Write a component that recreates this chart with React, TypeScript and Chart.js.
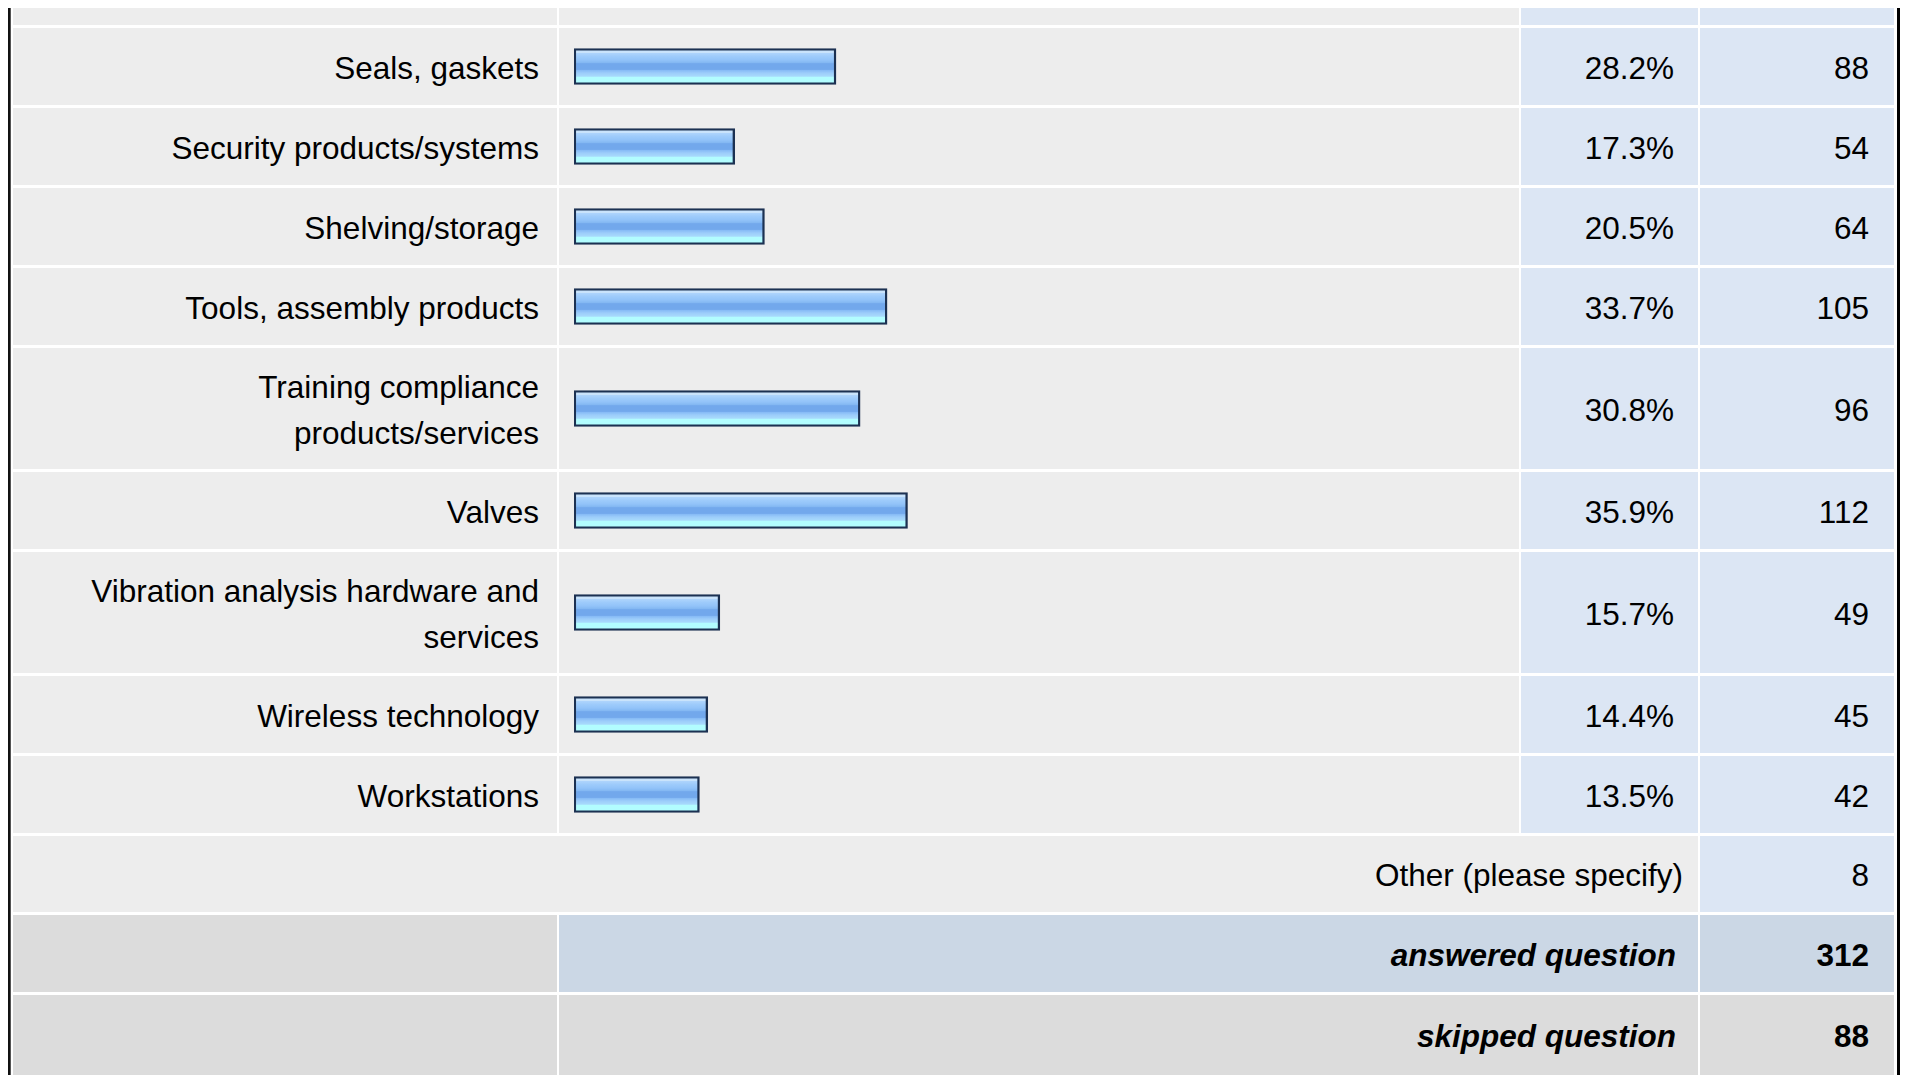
import React, { useEffect, useRef } from "react";
import { Chart, registerables } from "chart.js";

Chart.register(...registerables);

const categories: string[] = [
  "Seals, gaskets",
  "Security products/systems",
  "Shelving/storage",
  "Tools, assembly products",
  "Training compliance products/services",
  "Valves",
  "Vibration analysis hardware and services",
  "Wireless technology",
  "Workstations",
];
const percents: number[] = [28.2, 17.3, 20.5, 33.7, 30.8, 35.9, 15.7, 14.4, 13.5];
const counts: number[] = [88, 54, 64, 105, 96, 112, 49, 45, 42];
const otherLabel = "Other (please specify)";
const otherCount = 8;
const answeredLabel = "answered question";
const answeredCount = 312;
const skippedLabel = "skipped question";
const skippedCount = 88;

const FONT = '"Liberation Sans", Arial, Helvetica, sans-serif';
const GRAY = "#ededed";
const BLUE = "#dce6f4";
const DARKGRAY = "#dcdcdc";
const SUMBLUE = "#cbd7e5";

function BarCell({ label, value }: { label: string; value: number }) {
  const ref = useRef<HTMLCanvasElement | null>(null);
  useEffect(() => {
    if (!ref.current) return;
    const chart = new Chart(ref.current, {
      type: "bar",
      data: {
        labels: [label],
        datasets: [
          {
            data: [value],
            backgroundColor: (c: any) => {
              const ch = c.chart;
              const area = ch.chartArea;
              if (!area) return "#8fc2f8";
              const mid = (area.top + area.bottom) / 2;
              const g = ch.ctx.createLinearGradient(0, mid - 18, 0, mid + 18);
              g.addColorStop(0.0, "#c9e3fb");
              g.addColorStop(0.12, "#c9e3fb");
              g.addColorStop(0.13, "#aed4fc");
              g.addColorStop(0.22, "#9ecbfb");
              g.addColorStop(0.32, "#92c3f9");
              g.addColorStop(0.40, "#82b7f2");
              g.addColorStop(0.42, "#72a8ec");
              g.addColorStop(0.58, "#72a8ec");
              g.addColorStop(0.61, "#88bcf6");
              g.addColorStop(0.68, "#9ccdfa");
              g.addColorStop(0.77, "#a8dafc");
              g.addColorStop(0.80, "#b2fdff");
              g.addColorStop(1.0, "#b2fdff");
              return g;
            },
            borderColor: "#1c3152",
            borderWidth: 2.4,
            borderSkipped: false,
            barThickness: 36,
          },
        ],
      },
      options: {
        indexAxis: "y",
        responsive: true,
        maintainAspectRatio: false,
        animation: false,
        layout: { padding: { left: 15, right: 16, top: 0, bottom: 0 } },
        scales: {
          x: { min: 0, max: 100, display: false },
          y: { display: false },
        },
        plugins: { legend: { display: false }, tooltip: { enabled: false } },
      },
    } as any);
    return () => chart.destroy();
  }, [label, value]);
  return (
    <div style={{ position: "absolute", inset: 0 }}>
      <canvas ref={ref} />
    </div>
  );
}

const cellBase: React.CSSProperties = {
  fontFamily: FONT,
  fontSize: 31.5,
  lineHeight: "46px",
  color: "#000",
  boxSizing: "border-box",
  paddingTop: 17,
  paddingBottom: 14,
  textAlign: "right",
  display: "flex",
  alignItems: "center",
  justifyContent: "flex-end",
};

const isTwoLine = (s: string) => s.length > 26;

export default function App() {
  return (
    <div style={{ position: "relative", width: 1893 }}>
      <div
        style={{
          position: "absolute",
          left: 0,
          top: 0,
          bottom: 0,
          width: 3,
          background: "linear-gradient(to right, #111 0px, #111 2px, #555 2px, #555 3px)",
        }}
      />
      <div
        style={{
          position: "absolute",
          left: 1889,
          top: 0,
          bottom: 0,
          width: 2.5,
          background: "#000",
        }}
      />
      <div
        style={{
          marginLeft: 5,
          display: "grid",
          gridTemplateColumns: "544px 960px 177px 194px",
          columnGap: 2,
          rowGap: 3,
        }}
      >
        <div style={{ height: 17, background: GRAY }} />
        <div style={{ height: 17, background: GRAY }} />
        <div style={{ height: 17, background: BLUE }} />
        <div style={{ height: 17, background: BLUE }} />
        {categories.map((cat, i) => {
          const pad: React.CSSProperties = isTwoLine(cat)
            ? { paddingTop: 16, paddingBottom: 13 }
            : {};
          return (
            <React.Fragment key={cat}>
              <div style={{ ...cellBase, ...pad, background: GRAY, paddingLeft: 20, paddingRight: 18 }}>
                <span>{cat}</span>
              </div>
              <div style={{ position: "relative", background: GRAY }}>
                <BarCell label={cat} value={percents[i]} />
              </div>
              <div style={{ ...cellBase, ...pad, background: BLUE, paddingRight: 24 }}>
                {percents[i].toFixed(1)}%
              </div>
              <div style={{ ...cellBase, ...pad, background: BLUE, paddingRight: 25 }}>{counts[i]}</div>
            </React.Fragment>
          );
        })}
        <div
          style={{
            ...cellBase,
            paddingTop: 15.5,
            paddingBottom: 14.5,
            gridColumn: "1 / span 3",
            background: GRAY,
            paddingRight: 15,
          }}
        >
          {otherLabel}
        </div>
        <div style={{ ...cellBase, paddingTop: 15.5, paddingBottom: 14.5, background: BLUE, paddingRight: 25 }}>
          {otherCount}
        </div>

        <div style={{ ...cellBase, background: DARKGRAY }} />
        <div
          style={{
            ...cellBase,
            gridColumn: "2 / span 2",
            background: SUMBLUE,
            paddingRight: 22,
            fontWeight: "bold",
            fontStyle: "italic",
          }}
        >
          {answeredLabel}
        </div>
        <div style={{ ...cellBase, background: SUMBLUE, paddingRight: 25, fontWeight: "bold" }}>
          {answeredCount}
        </div>

        <div style={{ ...cellBase, paddingTop: 18, paddingBottom: 16, background: DARKGRAY }} />
        <div
          style={{
            ...cellBase,
            paddingTop: 18,
            paddingBottom: 16,
            gridColumn: "2 / span 2",
            background: DARKGRAY,
            paddingRight: 22,
            fontWeight: "bold",
            fontStyle: "italic",
          }}
        >
          {skippedLabel}
        </div>
        <div
          style={{
            ...cellBase,
            paddingTop: 18,
            paddingBottom: 16,
            background: DARKGRAY,
            paddingRight: 25,
            fontWeight: "bold",
          }}
        >
          {skippedCount}
        </div>
      </div>
    </div>
  );
}
